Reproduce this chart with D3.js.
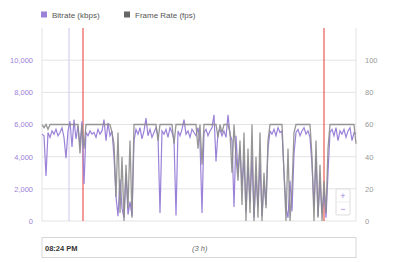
<!DOCTYPE html>
<html>
<head>
<meta charset="utf-8">
<script src="https://cdn.jsdelivr.net/npm/d3@7"></script>
<style>
  body { margin: 0; background: #fff; }
  svg { font-family: "Liberation Sans", Arial, sans-serif; }
</style>
</head>
<body>
<div id="chart"></div>
<script>
// samples over the 3 h window (one per ~70 s)
var bitrate = [5400,5300,2800,5500,5200,5600,5400,5700,5300,5500,5800,5200,3900,5600,6200,4600,6300,5100,5900,4700,
  6200,2300,5500,5300,5600,5400,5500,5200,5700,5400,5600,6300,5000,6100,5300,5600,4000,1500,300,2600,
  800,200,3000,400,1200,300,5000,5700,5400,5800,5100,5600,6400,5300,5700,5200,5500,5800,5300,500,
  5600,5400,5700,5200,5800,5500,5100,350,5600,5300,5700,6300,5400,5600,5200,5700,5500,5300,5800,4900,
  500,5500,5700,5300,5600,5800,6600,3700,5500,5700,5300,5600,5200,6600,5400,5000,870,5300,3000,4500,
  2200,3800,600,3400,1200,4000,200,2800,900,3600,300,2500,1000,4500,5600,5400,5700,5300,5800,5500,
  5600,3000,800,200,2500,600,4200,5500,5700,5300,5600,5800,5400,5600,5200,3500,900,4000,300,2500,
  500,1800,200,3000,5500,5700,5300,5800,5000,5600,5400,5700,5200,5600,5800,5000,5500,5400];

var frameRate = [60,58,60,57,60,60,60,60,60,60,60,60,60,60,60,60,60,60,60,42,
  60,45,60,60,60,60,60,60,60,60,60,60,60,60,60,55,48,15,55,5,
  40,0,35,8,50,2,60,60,60,60,60,60,60,60,60,60,60,60,50,60,
  60,60,60,60,60,60,48,60,60,60,60,60,60,60,60,60,60,60,45,60,
  35,60,60,60,60,60,60,60,52,60,55,60,60,60,55,30,60,40,25,50,
  10,55,0,45,5,60,0,40,2,55,0,30,8,50,60,60,60,60,60,60,
  60,30,0,45,0,20,55,60,60,60,60,60,60,60,60,40,0,50,2,35,
  0,25,5,45,60,60,60,60,60,60,60,60,60,60,60,60,60,48];

var bitrateTicks = [0, 2000, 4000, 6000, 8000, 10000];
var fpsTicks = [0, 20, 40, 60, 80, 100];
var markers = [{ i: 13.5, color: "#cfc5ec" }, { i: 20.5, color: "#e53935" }, { i: 141, color: "#e53935" }];
var series = [{ name: "Bitrate (kbps)", color: "#9b82d8" }, { name: "Frame Rate (fps)", color: "#666666" }];
var startLabel = "08:24 PM", spanLabel = "(3 h)";

var width = 399, height = 262;
var margin = { top: 28, right: 43, bottom: 41, left: 42 };

var svg = d3.select("#chart").append("svg")
    .attr("width", width)
    .attr("height", height);

var x = d3.scaleLinear()
    .domain([0, bitrate.length - 1])
    .range([margin.left, width - margin.right]);

var yLeft = d3.scaleLinear()
    .domain([0, 12000])
    .range([height - margin.bottom, margin.top]);

var yRight = d3.scaleLinear()
    .domain([0, 120])
    .range([height - margin.bottom, margin.top]);

// grid
svg.append("g")
  .selectAll("line")
  .data(bitrateTicks)
  .enter().append("line")
    .attr("x1", margin.left)
    .attr("x2", width - margin.right)
    .attr("y1", function(d) { return yLeft(d); })
    .attr("y2", function(d) { return yLeft(d); })
    .attr("stroke", "#e3e3e3")
    .attr("stroke-width", 1);

// plot side borders
[margin.left, width - margin.right].forEach(function(px) {
  svg.append("line")
    .attr("x1", px).attr("x2", px)
    .attr("y1", margin.top).attr("y2", height - margin.bottom)
    .attr("stroke", "#e3e3e3");
});

// left axis
var axL = svg.append("g")
    .attr("transform", "translate(" + margin.left + ",0)")
    .call(d3.axisLeft(yLeft).tickValues(bitrateTicks).tickSize(0).tickPadding(9).tickFormat(d3.format(",")));
axL.select(".domain").remove();
axL.selectAll("text").attr("fill", "#9b82d8").style("font-size", "7.5px");

// right axis
var axR = svg.append("g")
    .attr("transform", "translate(" + (width - margin.right) + ",0)")
    .call(d3.axisRight(yRight).tickValues(fpsTicks).tickSize(0).tickPadding(9));
axR.select(".domain").remove();
axR.selectAll("text").attr("fill", "#999").style("font-size", "7.5px");

// markers
svg.append("g")
  .selectAll("line")
  .data(markers)
  .enter().append("line")
    .attr("x1", function(d) { return x(d.i); })
    .attr("x2", function(d) { return x(d.i); })
    .attr("y1", margin.top)
    .attr("y2", height - margin.bottom)
    .attr("stroke", function(d) { return d.color; })
    .attr("stroke-width", 1);

var lineBitrate = d3.line()
    .x(function(d, i) { return x(i); })
    .y(function(d) { return yLeft(d); });

var lineFps = d3.line()
    .x(function(d, i) { return x(i); })
    .y(function(d) { return yRight(d); });

svg.append("path")
    .datum(bitrate)
    .attr("fill", "none")
    .attr("stroke", "#9b82d8")
    .attr("stroke-width", 1.2)
    .attr("d", lineBitrate);

svg.append("path")
    .datum(frameRate)
    .attr("fill", "none")
    .attr("stroke", "#8c8c8c")
    .attr("stroke-width", 1.3)
    .attr("stroke-opacity", 0.9)
    .attr("d", lineFps);

// legend
var leg = svg.append("g");
series.forEach(function(s, k) {
  var lx = 41 + k * 83;
  leg.append("rect")
    .attr("x", lx).attr("y", 11.5)
    .attr("width", 6).attr("height", 6)
    .attr("fill", s.color);
  leg.append("text")
    .attr("x", lx + 11).attr("y", 17.5)
    .attr("fill", "#555")
    .style("font-size", "8px")
    .text(s.name);
});

// zoom buttons
var zb = svg.append("g");
zb.append("rect")
  .attr("x", 336).attr("y", 189).attr("width", 14).attr("height", 26)
  .attr("fill", "#fff").attr("stroke", "#ddd").attr("rx", 1);
zb.append("line")
  .attr("x1", 336).attr("x2", 350).attr("y1", 202).attr("y2", 202)
  .attr("stroke", "#eee");
zb.append("text").attr("x", 343).attr("y", 199).attr("text-anchor", "middle")
  .attr("fill", "#9b82d8").style("font-size", "9px").text("+");
zb.append("text").attr("x", 343).attr("y", 212).attr("text-anchor", "middle")
  .attr("fill", "#9b82d8").style("font-size", "9px").text("\u2212");

// range box
var rb = svg.append("g");
rb.append("rect")
  .attr("x", margin.left).attr("y", 237.5)
  .attr("width", width - margin.right - margin.left).attr("height", 20)
  .attr("fill", "#fff").attr("stroke", "#d6d6d6");
rb.append("text")
  .attr("x", margin.left + 3).attr("y", 250.5)
  .attr("fill", "#333").style("font-size", "7.5px").style("font-weight", "bold")
  .text(startLabel);
rb.append("text")
  .attr("x", 192).attr("y", 250.5)
  .attr("fill", "#666").style("font-size", "7.5px").style("font-style", "italic")
  .text(spanLabel);
</script>
</body>
</html>
